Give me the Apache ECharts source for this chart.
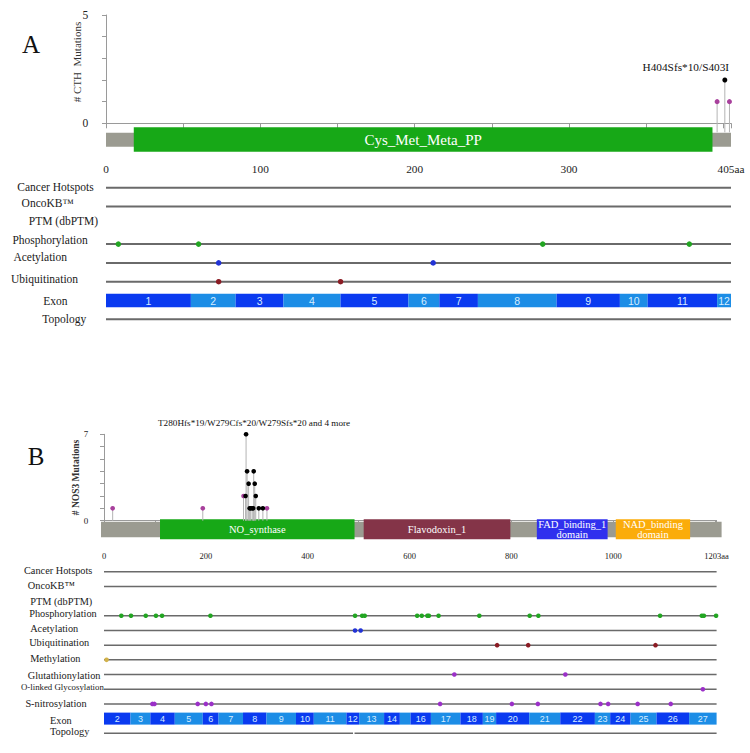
<!DOCTYPE html>
<html>
<head>
<meta charset="utf-8">
<script src="https://cdn.jsdelivr.net/npm/echarts/dist/echarts.min.js"></script>
<style>html,body{margin:0;padding:0;background:#fff;}#main{width:750px;height:753px;}</style>
</head>
<body>
<div id="main"></div>
<script>
// ---------------- DATA : panel A (CTH) ----------------
const cthLength = 405;
const cthTruncating = [[401, 2]];
const cthOther = [[396, 1], [404, 1]];
const cthTopLabel = 'H404Sfs*10/S403I';
const cthYName = '# CTH  Mutations';
const cthDomainNames = ['Cys_Met_Meta_PP'];
const cthDomainStart = [18];
const cthDomainEnd = [393];
const cthTracks = ['Cancer Hotspots', 'OncoKB™', 'PTM (dbPTM)', 'Phosphorylation', 'Acetylation', 'Ubiquitination', 'Exon', 'Topology'];
const cthPhosphorylation = [8, 60, 283, 378];
const cthAcetylation = [73, 212];
const cthUbiquitination = [73, 152];
const cthExonBounds = [0, 55, 84, 115, 152, 196, 216, 241, 292, 333, 351, 396, 405];
const cthExonNumbers = ['1', '2', '3', '4', '5', '6', '7', '8', '9', '10', '11', '12'];
const cthTopology = [[0, 405]];
const cthAxisTicks = [0, 50, 100, 150, 200, 250, 300, 350, 400, 405];
const cthAxisLabels = [0, 100, 200, 300, 405];
const cthYMax = 5;

// ---------------- DATA : panel B (NOS3) ----------------
const nos3Length = 1203;
const nos3Truncating = [[279, 7], [281, 4], [284, 3], [278, 2], [294, 4], [296, 3], [298, 2],
  [286, 1], [288, 1], [291, 1], [293, 1], [304, 1], [312, 1]];
const nos3Other = [[17, 1], [194, 1], [274, 2], [320, 1]];
const nos3TopLabel = 'T280Hfs*19/W279Cfs*20/W279Sfs*20 and 4 more';
const nos3YName = '# NOS3 Mutations';
const nos3DomainNames = ['NO_synthase', 'Flavodoxin_1', 'FAD_binding_1\ndomain', 'NAD_binding\ndomain'];
const nos3DomainStart = [110, 510, 850, 1005];
const nos3DomainEnd = [492, 798, 989, 1151];
const nos3Tracks = ['Cancer Hotspots', 'OncoKB™', 'PTM (dbPTM)', 'Phosphorylation', 'Acetylation', 'Ubiquitination',
  'Methylation', 'Glutathionylation', 'O-linked Glycosylation', 'S-nitrosylation', 'Exon', 'Topology'];
const nos3Phosphorylation = [34, 53, 82, 102, 114, 209, 493, 507, 512, 615, 624, 635, 638, 657, 737, 836, 853, 1092, 1174, 1178, 1202];
const nos3Acetylation = [493, 504];
const nos3Ubiquitination = [772, 833, 1083];
const nos3Methylation = [5];
const nos3Glutathionylation = [688, 906];
const nos3OGlycosylation = [1176];
const nos3SNitrosylation = [95, 99, 184, 200, 211, 660, 801, 852, 975, 990, 1048, 1113];
const nos3ExonBounds = [0, 52, 91, 139, 194, 225, 273, 319, 377, 412, 476, 501, 550, 581, 602, 642, 700, 744, 770, 835, 896, 964, 994, 1034, 1085, 1149, 1203];
const nos3ExonNumbers = ['2', '3', '4', '5', '6', '7', '8', '9', '10', '11', '12', '13', '14', '15', '16', '17', '18', '19', '20', '21', '22', '23', '24', '25', '26', '27'];
const nos3Topology = [[0, 489], [492, 1203]];
const nos3AxisTicks = [0, 100, 200, 300, 400, 500, 600, 700, 800, 900, 1000, 1100, 1200, 1203];
const nos3AxisLabels = [0, 200, 400, 600, 800, 1000, 1203];
const nos3YMax = 7;

// ---------------- STYLE ----------------
const SERIF = '"Liberation Serif", "Times New Roman", serif';
const SANS = '"Liberation Sans", Arial, sans-serif';
const C = {
  backbone: '#9b9b91', stem: '#b4b4b4', truncating: '#000000', other: '#a8409c',
  trackLine: '#6a6a6a', exonDark: '#0a3af0', exonLight: '#1c8de6', exonText: '#d6ecff',
  phospho: '#22a522', acetyl: '#2233d6', ubiq: '#8b1c24', methyl: '#d2b24a', purple: '#9b30c8'
};
const domainColors = {
  'Cys_Met_Meta_PP': '#17a817', 'NO_synthase': '#17a817', 'Flavodoxin_1': '#843448',
  'FAD_binding_1\ndomain': '#3030ee', 'NAD_binding\ndomain': '#fbac0a'
};
// layout (pixels)
const L = {
  A: { left: 106, right: 19, top: 15, height: 108.3, trackTop: 178.3, trackH: 150.4,
       bb: [9.4, 14], dom: [4, 24.4], stemExtra: 9, axisOffset: 31.2, yOffset: 11.7,
       labelLeft: [17.3, 21.6, 28.8, 12.4, 13.4, 11, 43.3, 42.3], labelDy: [-1, -3.2, -4.6, -4, -5.6, -2.4, 0, 0],
       labelSize: 11.5, exonH: 13.5, lineW: 2, dot: 5.5, head: 5 },
  B: { left: 104, right: 33.4, top: 434.3, height: 86.4, trackTop: 564.35, trackH: 176.3,
       bb: [1, 15.6], dom: [-1.4, 20], stemExtra: 0, axisOffset: 24.3, yOffset: 9.7,
       labelLeft: [24, 27.8, 30.2, 29.2, 30.2, 29.2, 30.2, 27.8, 21, 25.4, 50, 50],
       labelDy: [-1, -0.4, 0, -2.5, -2.2, -2.5, -1.1, 0.5, -2.2, -0.6, 1.4, -1.6],
       labelSize: 10.3, exonH: 12, lineW: 1.5, dot: 4.6, head: 4.6 }
};

function trackLabel(names, cfg) {
  const minLeft = Math.min.apply(null, cfg.labelLeft);
  const rich = {};
  names.forEach((n, i) => {
    const dy = cfg.labelDy[i];
    rich['t' + i] = {
      fontFamily: SERIF, fontSize: n === 'O-linked Glycosylation' ? 8.8 : cfg.labelSize, color: '#1a1a1a',
      padding: [dy > 0 ? 2 * dy : 0, 0, dy < 0 ? -2 * dy : 0, cfg.labelLeft[i] - minLeft]
    };
  });
  return { show: true, interval: 0, align: 'left', margin: cfg.left - minLeft,
    formatter: (v, i) => '{t' + i + '|' + v + '}', rich: rich };
}

function backboneSeries(g, len, cfg, ext) {
  return { type: 'custom', xAxisIndex: g, yAxisIndex: g, clip: false, z: 1, silent: true,
    data: [[0, len]],
    renderItem(p, api) {
      const s = api.coord([api.value(0), 0]); const e = api.coord([api.value(1), 0]);
      return { type: 'rect', shape: { x: s[0] - ext[0], y: s[1] + cfg.bb[0], width: e[0] - s[0] + ext[0] + ext[1], height: cfg.bb[1] },
        style: { fill: C.backbone } };
    } };
}

function domainSeries(g, names, starts, ends, cfg, fontSize, lineH) {
  return { type: 'custom', xAxisIndex: g, yAxisIndex: g, clip: false, z: 2, silent: true,
    data: names.map((n, i) => [starts[i], ends[i], i]),
    renderItem(p, api) {
      const s = api.coord([api.value(0), 0]); const e = api.coord([api.value(1), 0]);
      const name = names[api.value(2)];
      return { type: 'rect', shape: { x: s[0], y: s[1] + cfg.dom[0], width: e[0] - s[0], height: cfg.dom[1] },
        style: { fill: domainColors[name] },
        textContent: { type: 'text', style: { text: name, fill: '#ffffff', fontFamily: SERIF, fontSize: fontSize, lineHeight: lineH, align: 'center', verticalAlign: 'middle' } },
        textConfig: { position: 'inside' } };
    } };
}

function stemSeries(g, data, cfg) {
  return { type: 'custom', xAxisIndex: g, yAxisIndex: g, clip: false, z: 3, silent: true,
    data: data,
    renderItem(p, api) {
      const t = api.coord([api.value(0), api.value(1)]); const b = api.coord([api.value(0), 0]);
      return { type: 'line', shape: { x1: t[0], y1: t[1], x2: b[0], y2: b[1] + cfg.stemExtra },
        style: { stroke: C.stem, lineWidth: 1 } };
    } };
}

function headSeries(g, data, color, cfg, topItem, labelText, labelCfg) {
  return { type: 'scatter', xAxisIndex: g, yAxisIndex: g, z: 5, symbolSize: cfg.head, silent: true,
    itemStyle: { color: color, opacity: 1 },
    data: data.map(d => {
      if (d === topItem) {
        return { value: d, label: { show: true, position: 'top', distance: 5, formatter: labelText,
          offset: labelCfg.offset, fontFamily: SERIF, fontSize: labelCfg.size, color: '#111' } };
      }
      return { value: d };
    }) };
}

function trackLineSeries(g, tracks, len, topology) {
  const data = [];
  tracks.forEach(t => {
    if (t === 'PTM (dbPTM)' || t === 'Exon') return;
    if (t === 'Topology') { topology.forEach(seg => data.push([seg[0], seg[1], t])); return; }
    data.push([0, len, t]);
  });
  return data;
}

function linesSeries(g, data, cfg) {
  return { type: 'custom', xAxisIndex: g, yAxisIndex: g, clip: false, z: 1, silent: true,
    encode: { x: [0, 1], y: 2 }, data: data,
    renderItem(p, api) {
      const s = api.coord([api.value(0), api.value(2)]); const e = api.coord([api.value(1), api.value(2)]);
      return { type: 'line', shape: { x1: s[0], y1: s[1], x2: e[0], y2: e[1] }, style: { stroke: C.trackLine, lineWidth: cfg.lineW } };
    } };
}

function exonSeries(g, bounds, numbers, cfg, fontSize) {
  const data = numbers.map((n, i) => [bounds[i], bounds[i + 1], n, 'Exon']);
  return { type: 'custom', xAxisIndex: g, yAxisIndex: g, clip: false, z: 2, silent: true,
    dimensions: [{ name: 's', type: 'number' }, { name: 'e', type: 'number' }, { name: 'n', type: 'ordinal' }, { name: 'row', type: 'ordinal' }],
    encode: { x: [0, 1], y: 3 }, data: data,
    renderItem(p, api) {
      const row = api.value(3);
      const s = api.coord([api.value(0), row]); const e = api.coord([api.value(1), row]);
      const w = e[0] - s[0];
      const label = numbers[p.dataIndex];
      const el = { type: 'rect', shape: { x: s[0], y: s[1] - cfg.exonH / 2, width: w, height: cfg.exonH },
        style: { fill: p.dataIndex % 2 === 0 ? C.exonDark : C.exonLight } };
      if (w >= 11.5) {
        el.textContent = { type: 'text', style: { text: label, fill: C.exonText, fontFamily: SANS, fontSize: fontSize, align: 'center', verticalAlign: 'middle' } };
        el.textConfig = { position: 'inside' };
      }
      return el;
    } };
}

function dotSeries(g, positions, track, color, cfg) {
  return { type: 'scatter', xAxisIndex: g, yAxisIndex: g, z: 4, symbolSize: cfg.dot, silent: true,
    itemStyle: { color: color, opacity: 1 }, data: positions.map(p => [p, track]) };
}

function maxItem(lists) {
  let best = null;
  lists.forEach(l => l.forEach(d => { if (!best || d[1] > best[1]) best = d; }));
  return best;
}

const cthTop = maxItem([cthTruncating, cthOther]);
const nos3Top = maxItem([nos3Truncating, nos3Other]);

const axisGray = '#9a9a9a';

const option = {
  animation: false,
  backgroundColor: '#ffffff',
  grid: [
    { left: L.A.left, right: L.A.right, top: L.A.top, height: L.A.height },
    { left: L.A.left, right: L.A.right, top: L.A.trackTop, height: L.A.trackH },
    { left: L.B.left, right: L.B.right, top: L.B.top, height: L.B.height },
    { left: L.B.left, right: L.B.right, top: L.B.trackTop, height: L.B.trackH }
  ],
  xAxis: [
    { gridIndex: 0, type: 'value', min: 0, max: cthLength, offset: L.A.axisOffset, splitLine: { show: false },
      axisLine: { show: true, lineStyle: { color: axisGray, width: 1 } },
      axisTick: { show: true, length: 5, customValues: cthAxisTicks, lineStyle: { color: axisGray } },
      axisLabel: { show: true, customValues: cthAxisLabels, margin: 9, fontFamily: SERIF, fontSize: 11.3, color: '#222',
        formatter: v => v === cthLength ? v + 'aa' : String(v) } },
    { gridIndex: 1, type: 'value', min: 0, max: cthLength, show: false },
    { gridIndex: 2, type: 'value', min: 0, max: nos3Length, offset: L.B.axisOffset, splitLine: { show: false },
      axisLine: { show: true, lineStyle: { color: axisGray, width: 1 } },
      axisTick: { show: true, length: 5, customValues: nos3AxisTicks, lineStyle: { color: axisGray } },
      axisLabel: { show: true, customValues: nos3AxisLabels, margin: 6, fontFamily: SERIF, fontSize: 8.5, color: '#222',
        formatter: v => v === nos3Length ? v + 'aa' : String(v) } },
    { gridIndex: 3, type: 'value', min: 0, max: nos3Length, show: false }
  ],
  yAxis: [
    { gridIndex: 0, type: 'value', min: 0, max: cthYMax, interval: 1, offset: L.A.yOffset, splitLine: { show: false },
      axisLine: { show: true, lineStyle: { color: axisGray } },
      axisTick: { show: true, length: 4, lineStyle: { color: axisGray } },
      axisLabel: { margin: 6, fontFamily: SERIF, fontSize: 11.5, color: '#222',
        formatter: v => (v === 0 || v === cthYMax) ? String(v) : '' } },
    { gridIndex: 1, type: 'category', data: cthTracks, inverse: true,
      axisLine: { show: false }, axisTick: { show: false }, splitLine: { show: false },
      axisLabel: trackLabel(cthTracks, L.A) },
    { gridIndex: 2, type: 'value', min: 0, max: nos3YMax, interval: 1, offset: L.B.yOffset, splitLine: { show: false },
      axisLine: { show: true, lineStyle: { color: axisGray } },
      axisTick: { show: true, length: 4, lineStyle: { color: axisGray } },
      axisLabel: { margin: 6, fontFamily: SERIF, fontSize: 9, color: '#222',
        formatter: v => (v === 0 || v === nos3YMax) ? String(v) : '' } },
    { gridIndex: 3, type: 'category', data: nos3Tracks, inverse: true,
      axisLine: { show: false }, axisTick: { show: false }, splitLine: { show: false },
      axisLabel: trackLabel(nos3Tracks, L.B) }
  ],
  graphic: [
    { type: 'text', x: 31, y: 44, style: { text: 'A', fontFamily: SERIF, fontSize: 25, fill: '#111', align: 'center', verticalAlign: 'middle' } },
    { type: 'text', x: 36, y: 456, style: { text: 'B', fontFamily: SERIF, fontSize: 25, fill: '#111', align: 'center', verticalAlign: 'middle' } },
    { type: 'text', x: 77, y: 62, rotation: Math.PI / 2,
      style: { text: cthYName, fontFamily: SERIF, fontSize: 11, fill: '#333', align: 'center', verticalAlign: 'middle' } },
    { type: 'text', x: 76, y: 477.5, rotation: Math.PI / 2,
      style: { text: nos3YName, fontFamily: SERIF, fontSize: 9.5, fontWeight: 'bold', fill: '#333', align: 'center', verticalAlign: 'middle' } }
  ],
  series: [
    // Panel A
    backboneSeries(0, cthLength, L.A, [0, 0]),
    domainSeries(0, cthDomainNames, cthDomainStart, cthDomainEnd, L.A, 15, 16),
    stemSeries(0, cthTruncating.concat(cthOther), L.A),
    headSeries(0, cthOther, C.other, L.A, cthTop, cthTopLabel, { offset: [-39, 0], size: 11.3 }),
    headSeries(0, cthTruncating, C.truncating, L.A, cthTop, cthTopLabel, { offset: [-39, 0], size: 11.3 }),
    linesSeries(1, trackLineSeries(1, cthTracks, cthLength, cthTopology), L.A),
    exonSeries(1, cthExonBounds, cthExonNumbers, L.A, 10.5),
    dotSeries(1, cthPhosphorylation, 'Phosphorylation', C.phospho, L.A),
    dotSeries(1, cthAcetylation, 'Acetylation', C.acetyl, L.A),
    dotSeries(1, cthUbiquitination, 'Ubiquitination', C.ubiq, L.A),
    // Panel B
    backboneSeries(2, nos3Length, L.B, [3, 5]),
    domainSeries(2, nos3DomainNames, nos3DomainStart, nos3DomainEnd, L.B, 10.5, 10.5),
    stemSeries(2, nos3Truncating.concat(nos3Other), L.B),
    headSeries(2, nos3Other, C.other, L.B, nos3Top, nos3TopLabel, { offset: [8, 0], size: 9.2 }),
    headSeries(2, nos3Truncating, C.truncating, L.B, nos3Top, nos3TopLabel, { offset: [8, 0], size: 9.2 }),
    linesSeries(3, trackLineSeries(3, nos3Tracks, nos3Length, nos3Topology), L.B),
    exonSeries(3, nos3ExonBounds, nos3ExonNumbers, L.B, 9),
    dotSeries(3, nos3Phosphorylation, 'Phosphorylation', C.phospho, L.B),
    dotSeries(3, nos3Acetylation, 'Acetylation', C.acetyl, L.B),
    dotSeries(3, nos3Ubiquitination, 'Ubiquitination', C.ubiq, L.B),
    dotSeries(3, nos3Methylation, 'Methylation', C.methyl, L.B),
    dotSeries(3, nos3Glutathionylation, 'Glutathionylation', C.purple, L.B),
    dotSeries(3, nos3OGlycosylation, 'O-linked Glycosylation', C.purple, L.B),
    dotSeries(3, nos3SNitrosylation, 'S-nitrosylation', C.purple, L.B)
  ]
};

const chart = echarts.init(document.getElementById('main'), null, { renderer: 'svg' });
chart.setOption(option);
</script>
</body>
</html>
